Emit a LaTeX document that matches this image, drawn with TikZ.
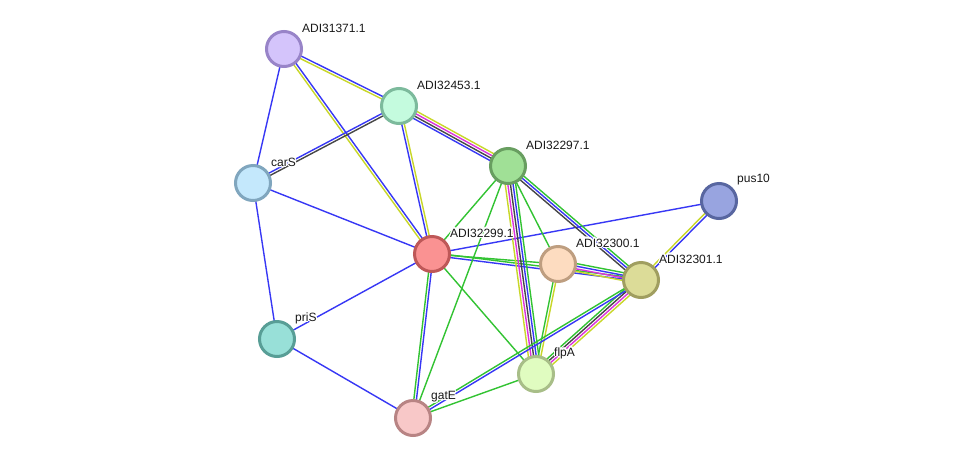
\documentclass[tikz,border=0pt]{standalone}
\usepackage{fontspec}
\setmainfont{Liberation Sans}
\usepackage{contour}
\contourlength{1.2pt}
\usetikzlibrary{calc}
\definecolor{sb}{RGB}{55,55,245}
\definecolor{sg}{RGB}{50,195,50}
\definecolor{sy}{RGB}{200,215,40}
\definecolor{sm}{RGB}{220,50,220}
\definecolor{sk}{RGB}{70,70,70}
\newcommand\sedge[3]{%
  \gdef\ncol{0}%
  \foreach \cc in {#3}{\xdef\ncol{\the\numexpr\ncol+1\relax}}%
  \foreach \cc [count=\ii] in {#3}{%
    \pgfmathsetmacro\off{(\ii-(\ncol+1)/2)*2.6}%
    \draw[elink,\cc] ($(#1)!\off pt!90:(#2)$) -- ($(#2)!\off pt!-90:(#1)$);
  }%
}
\tikzset{
  elink/.style={line width=1.4pt},
  prot/.style={circle, minimum size=35pt, inner sep=0pt, line width=3pt},
  lbl/.style={anchor=west, font=\fontsize{12}{14}\selectfont, inner sep=0pt, text=black!90}
}
\newcommand\plabel[2]{\node[lbl] (l#1) at ($(#1)+(18,-20.5)$) {\contour{white}{#2}};}
\begin{document}
\begin{tikzpicture}[x=1pt,y=-1pt]
\useasboundingbox[fill=white] (0,0) rectangle (976,464);
\coordinate (a31371) at (284,49);
\coordinate (a32453) at (399,106);
\coordinate (a32297) at (508,166);
\coordinate (cars) at (253,183);
\coordinate (pus) at (719,201);
\coordinate (a32299) at (432,254);
\coordinate (a32300) at (558,264);
\coordinate (a32301) at (641,280);
\coordinate (pris) at (277,339);
\coordinate (flpa) at (536,374);
\coordinate (gate) at (413,418);
% edges
\sedge{a31371}{a32453}{sy,sb}
\sedge{a31371}{cars}{sb}
\sedge{a31371}{a32299}{sy,sb}
\sedge{a32453}{cars}{sb,sk}
\sedge{a32453}{a32297}{sb,sk,sm,sy}
\sedge{a32453}{a32299}{sb,sy}
\sedge{cars}{a32299}{sb}
\sedge{cars}{pris}{sb}
\sedge{pris}{a32299}{sb}
\sedge{pris}{gate}{sb}
\sedge{a32299}{pus}{sb}
\sedge{a32299}{a32300}{sg}
\sedge{a32299}{a32301}{sb,sg}
\sedge{a32299}{flpa}{sg}
\sedge{a32299}{gate}{sg,sb}
\sedge{a32299}{a32297}{sg}
\sedge{a32297}{gate}{sg}
\sedge{a32297}{a32300}{sg}
\sedge{a32297}{a32301}{sk,sb,sg}
\sedge{a32297}{flpa}{sy,sm,sk,sb,sg}
\sedge{a32300}{a32301}{sy,sm,sb,sg}
\sedge{a32300}{flpa}{sg,sy}
\sedge{a32301}{flpa}{sg,sk,sm,sy}
\sedge{a32301}{gate}{sg,sb}
\sedge{a32301}{pus}{sb,sy}
\sedge{flpa}{gate}{sg}
% nodes
\node[prot, fill={rgb,255:red,212;green,196;blue,251}, draw={rgb,255:red,152;green,132;blue,200}] (n31371) at (a31371) {};
\node[prot, fill={rgb,255:red,196;green,251;blue,222}, draw={rgb,255:red,124;green,186;blue,156}] (n32453) at (a32453) {};
\node[prot, fill={rgb,255:red,160;green,224;blue,150}, draw={rgb,255:red,104;green,158;blue,96}] (n32297) at (a32297) {};
\node[prot, fill={rgb,255:red,196;green,232;blue,252}, draw={rgb,255:red,128;green,166;blue,190}] (ncars) at (cars) {};
\node[prot, fill={rgb,255:red,152;green,164;blue,224}, draw={rgb,255:red,88;green,102;blue,160}] (npus) at (pus) {};
\node[prot, fill={rgb,255:red,250;green,146;blue,146}, draw={rgb,255:red,190;green,88;blue,88}] (n32299) at (a32299) {};
\node[prot, fill={rgb,255:red,253;green,220;blue,192}, draw={rgb,255:red,190;green,158;blue,128}] (n32300) at (a32300) {};
\node[prot, fill={rgb,255:red,220;green,220;blue,152}, draw={rgb,255:red,160;green,158;blue,96}] (n32301) at (a32301) {};
\node[prot, fill={rgb,255:red,152;green,224;blue,216}, draw={rgb,255:red,88;green,158;blue,150}] (npris) at (pris) {};
\node[prot, fill={rgb,255:red,224;green,252;blue,192}, draw={rgb,255:red,168;green,190;blue,136}] (nflpa) at (flpa) {};
\node[prot, fill={rgb,255:red,248;green,200;blue,200}, draw={rgb,255:red,184;green,132;blue,132}] (ngate) at (gate) {};
% labels
\plabel{a31371}{ADI31371.1}
\plabel{a32453}{ADI32453.1}
\plabel{a32297}{ADI32297.1}
\plabel{cars}{carS}
\plabel{pus}{pus10}
\plabel{a32299}{ADI32299.1}
\plabel{a32300}{ADI32300.1}
\plabel{a32301}{ADI32301.1}
\plabel{pris}{priS}
\plabel{flpa}{flpA}
\plabel{gate}{gatE}
\end{tikzpicture}
\end{document}
